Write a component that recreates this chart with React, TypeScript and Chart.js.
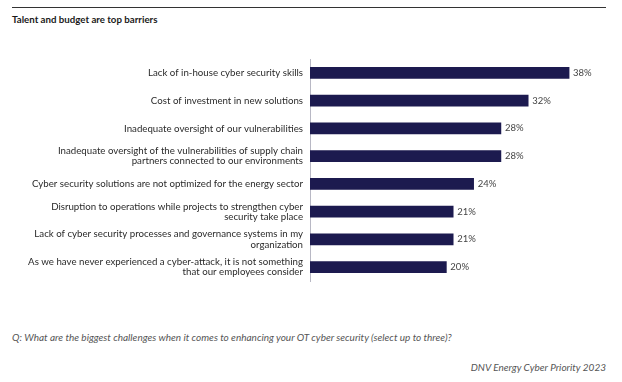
import React, { useEffect, useRef } from "react";
import { Chart, registerables } from "chart.js";

Chart.register(...registerables);

const categories: (string | string[])[] = [
  "Lack of in-house cyber security skills",
  "Cost of investment in new solutions",
  "Inadequate oversight of our vulnerabilities",
  ["Inadequate oversight of the vulnerabilities of supply chain", "partners connected to our environments"],
  "Cyber security solutions are not optimized for the energy sector",
  ["Disruption to operations while projects to strengthen cyber", "security take place"],
  ["Lack of cyber security processes and governance systems in my", "organization"],
  ["As we have never experienced a cyber-attack, it is not something", "that our employees consider"],
];
const values: number[] = [38, 32, 28, 28, 24, 21, 21, 20];

const FONT = "Lato, 'Open Sans', sans-serif";

const valueLabels = {
  id: "valueLabels",
  afterDatasetsDraw(chart: any) {
    const ctx = chart.ctx;
    const meta = chart.getDatasetMeta(0);
    ctx.save();
    ctx.font = `9.5px ${FONT}`;
    ctx.fillStyle = "#444444";
    ctx.textAlign = "left";
    ctx.textBaseline = "middle";
    meta.data.forEach((bar: any, i: number) => {
      ctx.fillText(`${values[i]}%`, bar.x + 4, bar.y);
    });
    ctx.restore();
  },
};

export default function App() {
  const ref = useRef<HTMLCanvasElement>(null);
  useEffect(() => {
    if (!ref.current) return;
    const chart = new Chart(ref.current, {
      type: "bar",
      data: {
        labels: categories,
        datasets: [
          {
            data: values,
            backgroundColor: "#1c1a4f",
            borderWidth: 0,
            barThickness: 11,
          },
        ],
      },
      options: {
        indexAxis: "y",
        animation: false,
        responsive: false,
        maintainAspectRatio: false,
        layout: { padding: { top: 59, bottom: 19, left: 0, right: 12 } },
        plugins: { legend: { display: false }, tooltip: { enabled: false } },
        scales: {
          x: { display: false, min: 0, max: 44 },
          y: {
            afterFit(scale: any) {
              scale.width = 310;
            },
            grid: { display: false, drawTicks: false },
            border: { display: true, color: "#b8b8c4", width: 1 },
            ticks: {
              padding: 7,
              color: "#2a2a2a",
              font: { family: FONT, size: 9.7, lineHeight: 1.05 },
            },
          },
        },
      },
      plugins: [valueLabels],
    });
    return () => chart.destroy();
  }, []);

  return (
    <div
      style={{
        position: "fixed",
        left: 0,
        top: 0,
        width: 622,
        height: 382,
        background: "#ffffff",
        fontFamily: FONT,
        overflow: "hidden",
      }}
    >
      <div
        style={{
          position: "absolute",
          left: 12,
          top: 7,
          width: 594,
          height: 0,
          borderTop: "1px solid #333333",
        }}
      />
      <div
        style={{
          position: "absolute",
          left: 12,
          top: 12,
          fontSize: 9.7,
          fontWeight: 700,
          color: "#1a1a1a",
          lineHeight: "14px",
          whiteSpace: "nowrap",
        }}
      >
        Talent and budget are top barriers
      </div>
      <canvas
        ref={ref}
        width={622}
        height={300}
        style={{ position: "absolute", left: 0, top: 0, width: 622, height: 300 }}
      />
      <div
        style={{
          position: "absolute",
          left: 12,
          top: 330,
          fontSize: 10,
          fontStyle: "italic",
          color: "#555555",
          lineHeight: "14px",
          whiteSpace: "nowrap",
        }}
      >
        Q: What are the biggest challenges when it comes to enhancing your OT cyber security (select up to three)?
      </div>
      <div
        style={{
          position: "absolute",
          right: 16,
          top: 360,
          fontSize: 10,
          fontStyle: "italic",
          color: "#555555",
          lineHeight: "14px",
          whiteSpace: "nowrap",
        }}
      >
        DNV Energy Cyber Priority 2023
      </div>
    </div>
  );
}
